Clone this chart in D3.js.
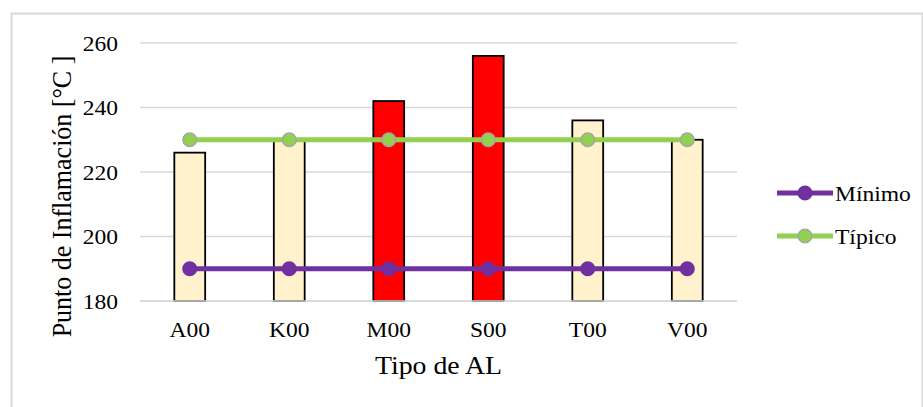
<!DOCTYPE html>
<html>
<head>
<meta charset="utf-8">
<script src="https://cdn.jsdelivr.net/npm/d3@7"></script>
<style>
  body { margin: 0; background: #fff; }
  text { font-family: "Liberation Serif", "Times New Roman", serif; fill: #000; }
</style>
</head>
<body>
<div id="chart"></div>
<script>
const tipos = ["A00", "K00", "M00", "S00", "T00", "V00"];
const puntoInflamacion = [226, 230, 242, 256, 236, 230];
const colorBarra = ["#FFF2CC", "#FFF2CC", "#FF0000", "#FF0000", "#FFF2CC", "#FFF2CC"];
const minimo = [190, 190, 190, 190, 190, 190];
const tipico = [230, 230, 230, 230, 230, 230];
const yTicks = [180, 200, 220, 240, 260];

const width = 923, height = 407;
const margin = {left: 140, right: 186, top: 43, bottom: 106};
const stretch = 1.07; // text in the original is slightly wide

const svg = d3.select("#chart").append("svg")
  .attr("width", width)
  .attr("height", height);

// chart border
svg.append("rect")
  .attr("x", 11.5).attr("y", 13.5)
  .attr("width", 911).attr("height", 420)
  .attr("fill", "#fff")
  .attr("stroke", "#d9d9d9")
  .attr("stroke-width", 2);

const x = d3.scaleBand()
  .domain(tipos)
  .range([margin.left, width - margin.right])
  .paddingInner(0.69)
  .paddingOuter(0.345);

const y = d3.scaleLinear()
  .domain([180, 260])
  .range([height - margin.bottom, margin.top]);

const at = (px, py) => `translate(${px},${py}) scale(${stretch},1)`;

// gridlines
svg.append("g")
  .selectAll("line")
  .data(yTicks)
  .join("line")
  .attr("x1", margin.left).attr("x2", width - margin.right)
  .attr("y1", d => y(d)).attr("y2", d => y(d))
  .attr("stroke", "#d9d9d9")
  .attr("stroke-width", 1.5);

// y tick labels
svg.append("g")
  .selectAll("text")
  .data(yTicks)
  .join("text")
  .attr("transform", d => at(118, y(d)))
  .attr("dy", "0.35em")
  .attr("text-anchor", "end")
  .attr("font-size", 22)
  .text(d => d);

// bars
svg.append("g")
  .selectAll("rect")
  .data(tipos)
  .join("rect")
  .attr("x", d => x(d))
  .attr("y", (d, i) => y(puntoInflamacion[i]))
  .attr("width", x.bandwidth())
  .attr("height", (d, i) => y(180) - y(puntoInflamacion[i]))
  .attr("fill", (d, i) => colorBarra[i])
  .attr("stroke", "#000")
  .attr("stroke-width", 1.8);

// baseline over bars
svg.append("line")
  .attr("x1", margin.left).attr("x2", width - margin.right)
  .attr("y1", y(180)).attr("y2", y(180))
  .attr("stroke", "#d9d9d9")
  .attr("stroke-width", 1.5);

const cx = d => x(d) + x.bandwidth() / 2;

const series = [
  {name: "Mínimo", values: minimo, color: "#7030A0", marker: "#7030A0", markerStroke: "#7030A0"},
  {name: "Típico", values: tipico, color: "#92D050", marker: "#92D050", markerStroke: "#A5A5A5"}
];

const line = d3.line()
  .x(d => cx(d.t))
  .y(d => y(d.v));

series.forEach(s => {
  const pts = tipos.map((t, i) => ({t, v: s.values[i]}));
  svg.append("path")
    .datum(pts)
    .attr("d", line)
    .attr("fill", "none")
    .attr("stroke", s.color)
    .attr("stroke-width", 5);
  svg.append("g")
    .selectAll("circle")
    .data(pts)
    .join("circle")
    .attr("cx", d => cx(d.t))
    .attr("cy", d => y(d.v))
    .attr("r", 6.8)
    .attr("fill", s.marker)
    .attr("stroke", s.markerStroke)
    .attr("stroke-width", 1.5);
});

// x labels
svg.append("g")
  .selectAll("text")
  .data(tipos)
  .join("text")
  .attr("transform", d => at(cx(d), 337))
  .attr("text-anchor", "middle")
  .attr("font-size", 22)
  .text(d => d);

// axis titles
svg.append("text")
  .attr("transform", at((margin.left + width - margin.right) / 2, 374))
  .attr("text-anchor", "middle")
  .attr("font-size", 26)
  .text("Tipo de AL");

svg.append("text")
  .attr("transform", `translate(71,196.5) rotate(-90) scale(1,${stretch})`)
  .attr("text-anchor", "middle")
  .attr("font-size", 26)
  .text("Punto de Inflamación [°C ]");

// legend
const legend = svg.append("g")
  .selectAll("g")
  .data(series)
  .join("g")
  .attr("transform", (d, i) => `translate(777,${193 + i * 43})`);

legend.append("line")
  .attr("x1", 0).attr("x2", 56)
  .attr("stroke", d => d.color)
  .attr("stroke-width", 5);

legend.append("circle")
  .attr("cx", 28)
  .attr("r", 6.8)
  .attr("fill", d => d.marker)
  .attr("stroke", d => d.markerStroke)
  .attr("stroke-width", 1.5);

legend.append("text")
  .attr("transform", `translate(58,0) scale(${stretch},1)`)
  .attr("dy", "0.35em")
  .attr("font-size", 22)
  .text(d => d.name);
</script>
</body>
</html>
